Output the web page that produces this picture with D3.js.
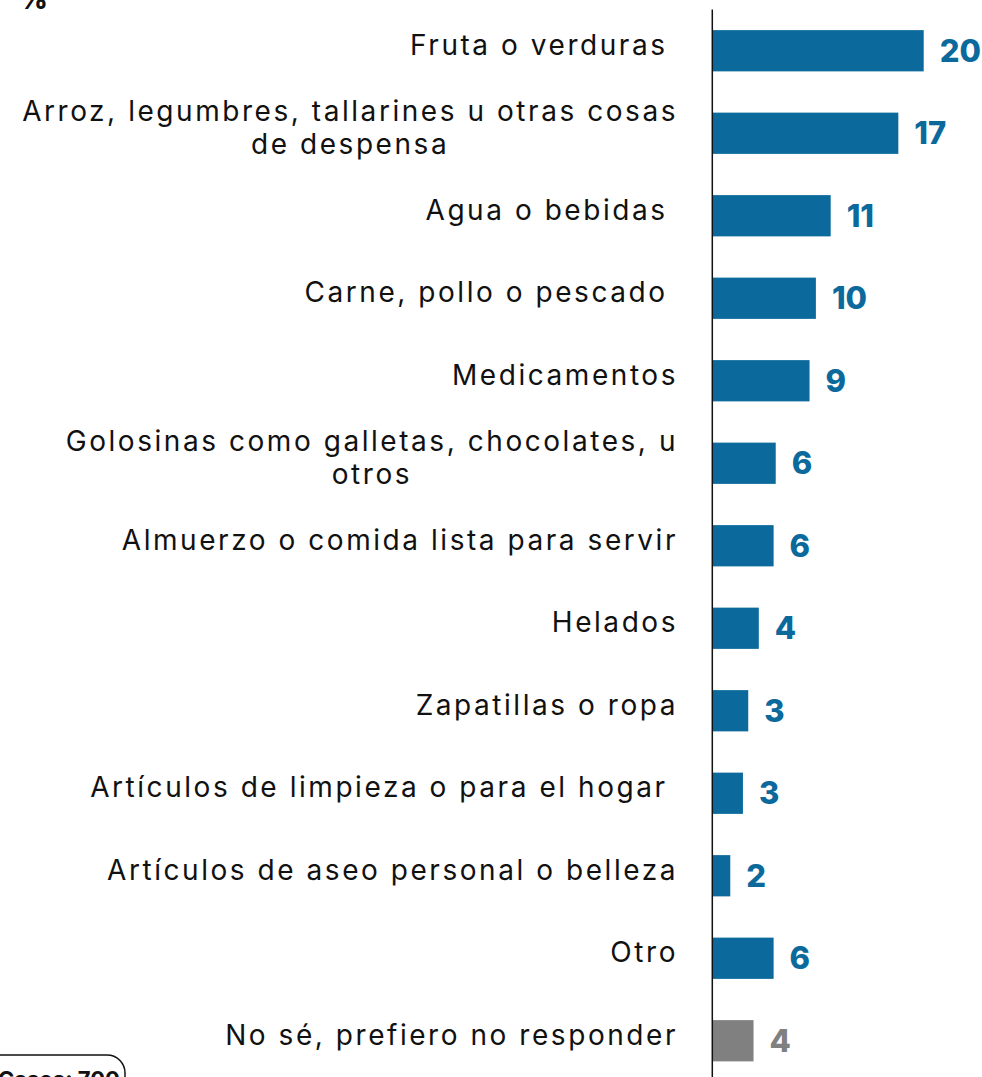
<!DOCTYPE html>
<html>
<head>
<meta charset="utf-8">
<script src="https://cdn.jsdelivr.net/npm/d3@7"></script>
<style>
  html, body { margin: 0; padding: 0; background: #ffffff; overflow: hidden; }
  svg { display: block; }
</style>
</head>
<body>
<svg id="chart" width="982" height="1077"></svg>
<script>
// ---- data ----
const categories = [
  "Fruta o verduras ",
  "Arroz, legumbres, tallarines u otras cosas\nde despensa",
  "Agua o bebidas ",
  "Carne, pollo o pescado ",
  "Medicamentos",
  "Golosinas como galletas, chocolates, u\notros",
  "Almuerzo o comida lista para servir",
  "Helados",
  "Zapatillas o ropa",
  "Artículos de limpieza o para el hogar ",
  "Artículos de aseo personal o belleza",
  "Otro",
  "No sé, prefiero no responder"
];
const values = [20.0, 17.6, 11.2, 9.8, 9.2, 6.0, 5.8, 4.4, 3.4, 2.9, 1.7, 5.8, 3.9];
const valueLabels = ["20", "17", "11", "10", "9", "6", "6", "4", "3", "3", "2", "6", "4"];
const kinds = ["item","item","item","item","item","item","item","item","item","item","item","item","dk"];
const unitLabel = "%";
const casesLabel = "Casos: 700";

// ---- styles ----
const BLUE = "#0b699b";
const GRAY = "#808080";
const labelFont = "Inter, sans-serif";
const valueFont = "Inter, sans-serif";

const svg = d3.select("#chart");
const axisX = 712.3;

const y = d3.scaleBand()
  .domain(d3.range(categories.length))
  .range([9.5, 1082])
  .paddingInner(0.5)
  .paddingOuter(0.25);

const x = d3.scaleLinear()
  .domain([0, 20])
  .range([axisX, 923.7]);

// bars
svg.append("g").selectAll("rect")
  .data(values)
  .join("rect")
  .attr("x", x(0))
  .attr("y", (d, i) => y(i))
  .attr("width", d => x(d) - x(0))
  .attr("height", y.bandwidth())
  .attr("fill", (d, i) => kinds[i] === "dk" ? GRAY : BLUE);

// value labels
svg.append("g").selectAll("text")
  .data(values)
  .join("text")
  .attr("x", d => x(d) + 16)
  .attr("y", (d, i) => y(i) + y.bandwidth() / 2)
  .attr("dy", "0.36em")
  .attr("font-family", valueFont)
  .attr("font-weight", 800)
  .attr("font-size", 31)
  .attr("fill", (d, i) => kinds[i] === "dk" ? GRAY : BLUE)
  .text((d, i) => valueLabels[i]);

// category labels
const labelRight = 678;
const lineH = 33;
const lg = svg.append("g")
  .attr("font-family", labelFont)
  .attr("font-size", 28)
  .attr("letter-spacing", 2.55)
  .attr("fill", "#111");

categories.forEach((c, i) => {
  const lines = c.split("\n");
  const cy = y(i) + y.bandwidth() / 2 - 6;
  const t = lg.append("text")
    .attr("xml:space", "preserve")
    .style("white-space", "pre");
  if (lines.length === 1) {
    t.attr("text-anchor", "end")
      .attr("x", labelRight)
      .attr("y", cy)
      .attr("dy", "0.36em")
      .text(lines[0]);
  } else {
    const tmp = lg.append("text").attr("xml:space", "preserve").style("white-space", "pre");
    let w = 0;
    lines.forEach(l => { tmp.text(l); w = Math.max(w, tmp.node().getComputedTextLength()); });
    tmp.remove();
    const cx = labelRight - w / 2;
    t.attr("text-anchor", "middle");
    lines.forEach((l, k) => {
      t.append("tspan")
        .attr("x", cx)
        .attr("y", cy + (k - (lines.length - 1) / 2) * lineH)
        .attr("dy", "0.36em")
        .text(l);
    });
  }
});

// axis line
svg.append("line")
  .attr("x1", axisX).attr("x2", axisX)
  .attr("y1", 9.5).attr("y2", 1077)
  .attr("stroke", "#111")
  .attr("stroke-width", 1.5);

// unit label (clipped at top, as in the reference)
svg.append("text")
  .attr("x", 19)
  .attr("y", 9)
  .attr("font-family", valueFont)
  .attr("font-weight", 800)
  .attr("font-size", 28)
  .attr("fill", "#111")
  .text(unitLabel);

// cases box (clipped at bottom, as in the reference)
svg.append("rect")
  .attr("x", -20)
  .attr("y", 1055)
  .attr("width", 145)
  .attr("height", 50)
  .attr("rx", 18)
  .attr("fill", "none")
  .attr("stroke", "#111")
  .attr("stroke-width", 1.5);
svg.append("text")
  .attr("x", -2)
  .attr("y", 1087)
  .attr("font-family", valueFont)
  .attr("font-weight", 700)
  .attr("font-size", 22)
  .attr("fill", "#111")
  .text(casesLabel);
</script>
</body>
</html>
